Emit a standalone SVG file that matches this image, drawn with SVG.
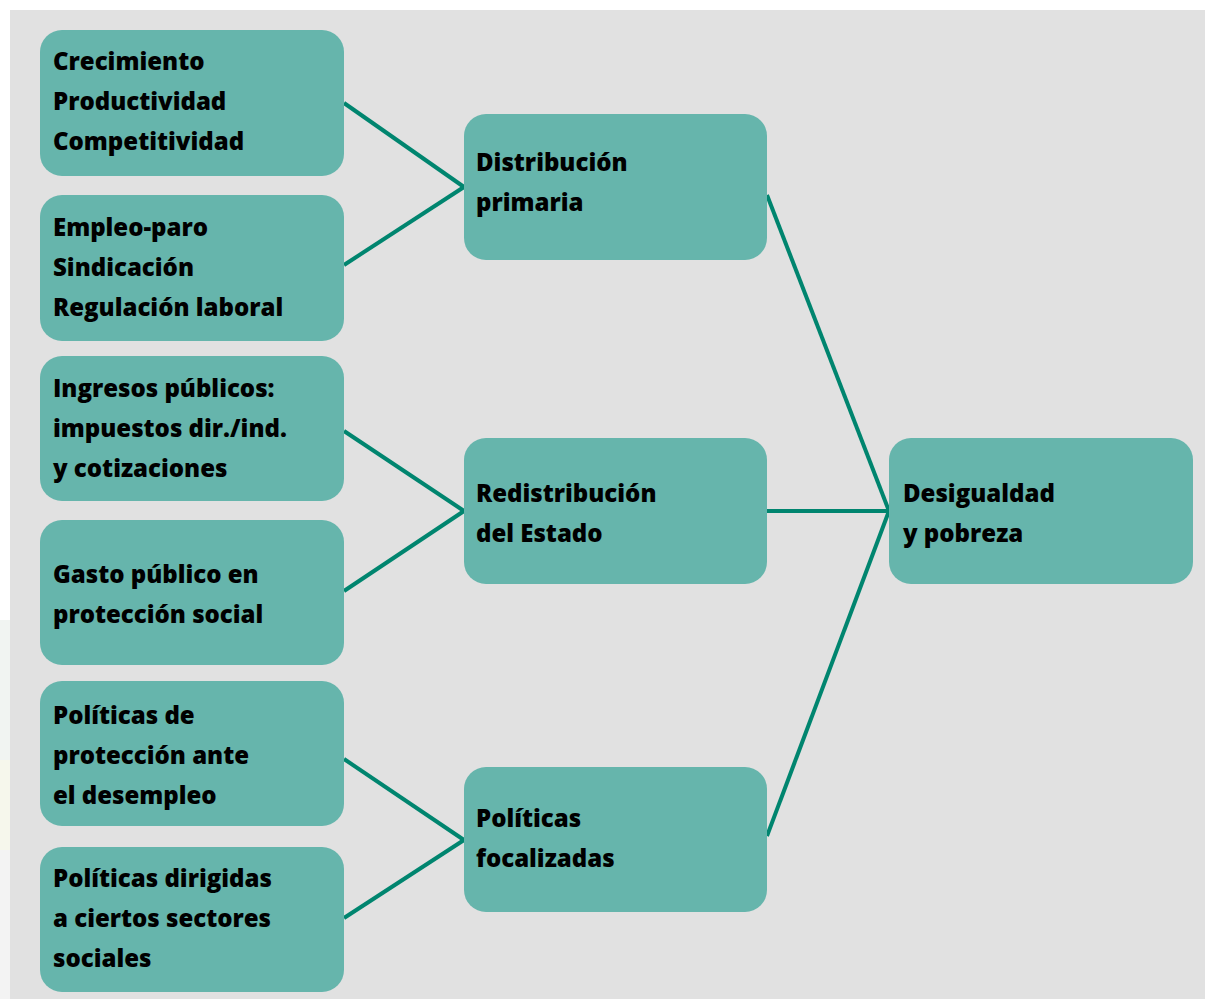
<svg xmlns="http://www.w3.org/2000/svg" width="1205" height="999" viewBox="0 0 1205 999">
<style>
.n{fill:#66b5ac}
.t{font-family:"Open Sans","Noto Sans",sans-serif;font-weight:800;font-size:24px;fill:#000}
.c line{stroke:#00856f;stroke-width:4;stroke-linecap:butt}
</style>
<rect width="1205" height="999" fill="#ffffff"/>
<rect x="0" y="620" width="10" height="140" fill="#f1f4f2"/>
<rect x="0" y="760" width="10" height="90" fill="#f6f7ec"/>
<rect x="0" y="850" width="10" height="149" fill="#f3f3f3"/>
<rect x="10" y="10" width="1195" height="989" fill="#e1e1e1"/>
<g class="c" id="connectors">
<line x1="344" y1="103" x2="464" y2="187"/>
<line x1="344" y1="265" x2="464" y2="187"/>
<line x1="344" y1="431" x2="464" y2="511"/>
<line x1="344" y1="591" x2="464" y2="511"/>
<line x1="344" y1="759" x2="464" y2="840"/>
<line x1="344" y1="918" x2="464" y2="840"/>
<line x1="767" y1="195" x2="889" y2="511"/>
<line x1="767" y1="511" x2="889" y2="511"/>
<line x1="767" y1="836" x2="889" y2="511"/>
</g>
<g id="n1"><rect class="n" x="40" y="30" width="304" height="146" rx="22"/>
<text class="t" x="53" y="70">Crecimiento</text><text class="t" x="53" y="110">Productividad</text><text class="t" x="53" y="150">Competitividad</text></g>
<g id="n2"><rect class="n" x="40" y="195" width="304" height="146" rx="22"/>
<text class="t" x="53" y="236">Empleo-paro</text><text class="t" x="53" y="276">Sindicación</text><text class="t" x="53" y="316">Regulación laboral</text></g>
<g id="n3"><rect class="n" x="40" y="356" width="304" height="145" rx="22"/>
<text class="t" x="53" y="397">Ingresos públicos:</text><text class="t" x="53" y="437">impuestos dir./ind.</text><text class="t" x="53" y="477">y cotizaciones</text></g>
<g id="n4"><rect class="n" x="40" y="520" width="304" height="145" rx="22"/>
<text class="t" x="53" y="583">Gasto público en</text><text class="t" x="53" y="623">protección social</text></g>
<g id="n5"><rect class="n" x="40" y="681" width="304" height="145" rx="22"/>
<text class="t" x="53" y="724">Políticas de</text><text class="t" x="53" y="764">protección ante</text><text class="t" x="53" y="804">el desempleo</text></g>
<g id="n6"><rect class="n" x="40" y="847" width="304" height="145" rx="22"/>
<text class="t" x="53" y="887">Políticas dirigidas</text><text class="t" x="53" y="927">a ciertos sectores</text><text class="t" x="53" y="967">sociales</text></g>
<g id="m1"><rect class="n" x="464" y="114" width="303" height="146" rx="22"/>
<text class="t" x="476" y="171">Distribución</text><text class="t" x="476" y="211">primaria</text></g>
<g id="m2"><rect class="n" x="464" y="438" width="303" height="146" rx="22"/>
<text class="t" x="476" y="502">Redistribución</text><text class="t" x="476" y="542">del Estado</text></g>
<g id="m3"><rect class="n" x="464" y="767" width="303" height="145" rx="22"/>
<text class="t" x="476" y="827">Políticas</text><text class="t" x="476" y="867">focalizadas</text></g>
<g id="r1"><rect class="n" x="889" y="438" width="304" height="146" rx="22"/>
<text class="t" x="903" y="502">Desigualdad</text><text class="t" x="903" y="542">y pobreza</text></g>
</svg>
